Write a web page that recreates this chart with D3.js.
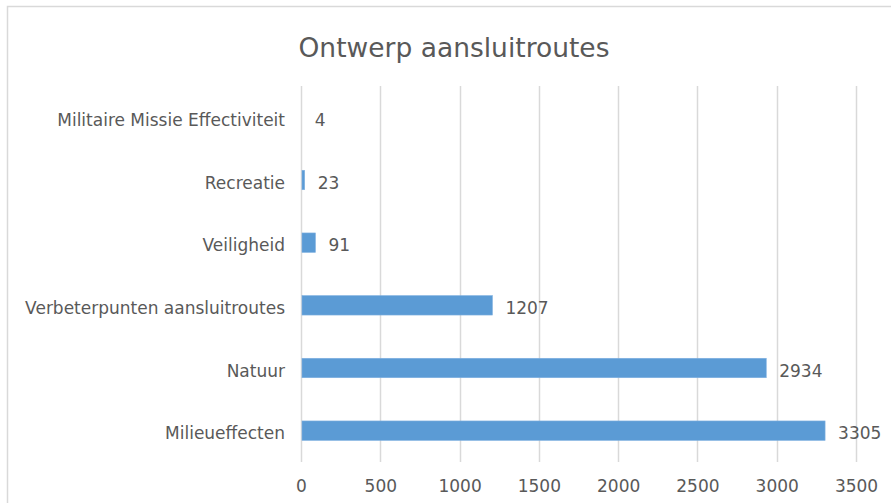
<!DOCTYPE html>
<html><head><meta charset="utf-8">
<script src="https://cdn.jsdelivr.net/npm/d3@7"></script>
<style>body{margin:0;background:#fff}svg{display:block}text{font-family:"DejaVu Sans",Verdana,sans-serif;fill:#595959}</style>
</head><body><svg id="c" width="891" height="503"></svg>
<script>
const categories = ["Militaire Missie Effectiviteit","Recreatie","Veiligheid","Verbeterpunten aansluitroutes","Natuur","Milieueffecten"];
const values = [4,23,91,1207,2934,3305];
const xTicks = [0,500,1000,1500,2000,2500,3000,3500];
const title = "Ontwerp aansluitroutes";

const svg = d3.select("#c");
const W=891,H=503;
svg.append("rect").attr("x",0).attr("y",0).attr("width",W).attr("height",H).attr("fill","#fff");
svg.append("path").attr("d",`M7.5,${H} V6.5 H${W}`).attr("fill","none").attr("stroke","#d9d9d9").attr("stroke-width",1.5);

const x = d3.scaleLinear().domain([0,3500]).range([301,856]);
const y = d3.scaleBand().domain(categories).range([86,462]).paddingInner(0.69).paddingOuter(0.345);

const grid = svg.append("g");
grid.selectAll("line").data(xTicks).join("line")
  .attr("x1",d=>Math.round(x(d))+0.5).attr("x2",d=>Math.round(x(d))+0.5)
  .attr("y1",86).attr("y2",462).attr("stroke","#d9d9d9").attr("stroke-width",1.5);

const xAxis = d3.axisBottom(x).tickValues(xTicks).tickSize(0).tickPadding(0).tickFormat(d3.format("d"));
const gx = svg.append("g").attr("transform","translate(0,480)").call(xAxis);
gx.select(".domain").remove();
gx.selectAll("text").style("font-size","17px").attr("fill","#595959").attr("dy","0.71em");

const yAxis = d3.axisLeft(y).tickSize(0).tickPadding(16);
const gy = svg.append("g").attr("transform","translate(301,0)").call(yAxis);
gy.select(".domain").remove();
gy.selectAll("text").style("font-size","17px").attr("fill","#595959").attr("dy","0.5em");

svg.append("g").selectAll("rect").data(values).join("rect")
  .attr("x",x(0)+1).attr("y",(d,i)=>y(categories[i]))
  .attr("width",d=>Math.max(0,x(d)-x(0)-1)).attr("height",y.bandwidth())
  .attr("fill","#5b9bd5").attr("stroke","#7fb0e0").attr("stroke-width",0.6);

svg.append("g").selectAll("text").data(values).join("text")
  .attr("x",d=>x(d)+13).attr("y",(d,i)=>y(categories[i])+y.bandwidth()/2)
  .attr("dy","0.5em").style("font-size","17px").text(d=>d);

svg.append("text").attr("x",454).attr("y",56.5).attr("text-anchor","middle")
  .style("font-size","26.5px").text(title);
</script></body></html>
